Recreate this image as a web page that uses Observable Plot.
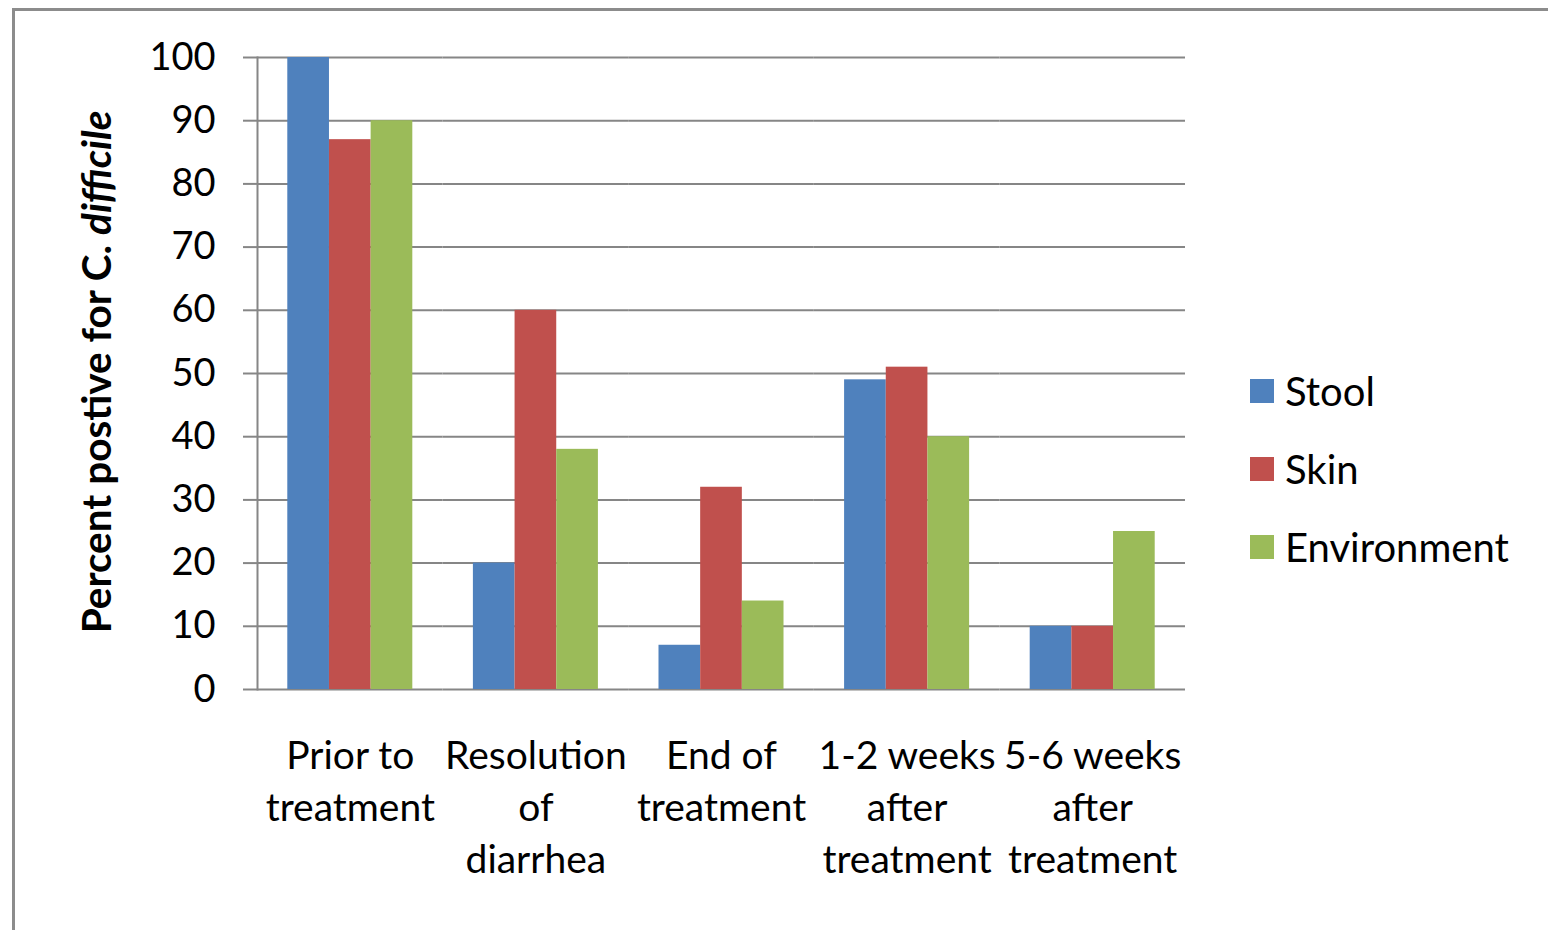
<!DOCTYPE html>
<html>
<head>
<meta charset="utf-8">
<script src="https://cdn.jsdelivr.net/npm/d3@7"></script>
<script src="https://cdn.jsdelivr.net/npm/@observablehq/plot@0.6"></script>
<style>
  html, body { margin: 0; padding: 0; background: #fff; overflow: hidden; }
  #chart { position: relative; width: 1548px; height: 930px; }
  #border { position: absolute; left: 12px; top: 8px; width: 1600px; height: 1000px;
            border: 3px solid #8c8c8c; box-sizing: border-box; pointer-events: none; }
  #legend { position: absolute; left: 1250px; top: 352px; font-family: Lato, sans-serif;
            font-size: 40px; color: #000; }
  #legend .row { display: flex; align-items: center; height: 78px; }
  #legend .sw { width: 24px; height: 24px; margin-right: 11px; }
  svg text { font-family: Lato, sans-serif; }
</style>
</head>
<body>
<div id="chart"><div id="border"></div></div>
<script>
// Time points of sampling (axis labels wrap onto several lines)
const categories = ["Prior to treatment", "Resolution of diarrhea", "End of treatment",
                    "1-2 weeks after treatment", "5-6 weeks after treatment"];
const categoryLabels = ["Prior to\ntreatment", "Resolution\nof\ndiarrhea", "End of\ntreatment",
                        "1-2 weeks\nafter\ntreatment", "5-6 weeks\nafter\ntreatment"];

// Sample sources
const series = ["Stool", "Skin", "Environment"];
const seriesColors = ["#4F81BD", "#C0504D", "#9BBB59"];

// Percent positive for C. difficile at each time point
const stool = [100, 20, 7, 49, 10];
const skin = [87, 60, 32, 51, 10];
const environment = [90, 38, 14, 40, 25];

const yTicks = [0, 10, 20, 30, 40, 50, 60, 70, 80, 90, 100];

const valuesBySeries = [stool, skin, environment];
const rows = categories.flatMap((category, i) =>
  series.map((s, j) => ({category, series: s, value: valuesBySeries[j][i]}))
);

const gridColor = "#868686";

const plot = Plot.plot({
  width: 1548,
  height: 930,
  marginLeft: 257,
  marginRight: 363,
  marginTop: 57,
  marginBottom: 241,
  style: {fontFamily: "Lato, sans-serif", fontSize: "38px", color: "#000", background: "transparent", overflow: "visible"},
  fx: {domain: categories, paddingInner: 0, paddingOuter: 0, round: false, label: null},
  x: {domain: series, paddingInner: 0, paddingOuter: 0.727, round: false, axis: null},
  y: {domain: [0, 100], label: null},
  color: {domain: series, range: seriesColors},
  marks: [
    Plot.ruleY(yTicks, {stroke: gridColor, strokeWidth: 2}),
    Plot.frame({anchor: "left", facetAnchor: "left", stroke: gridColor, strokeWidth: 2}),
    Plot.barY(rows, {fx: "category", x: "series", y: "value", fill: "series"}),
    Plot.axisY({ticks: yTicks, tickSize: 14, tickPadding: 28, stroke: gridColor, fill: "#000",
                strokeWidth: 2, fontSize: 38, label: null}),
    Plot.axisFx({anchor: "bottom", tickSize: 0, tickPadding: 43, fontSize: 39, lineHeight: 1.33, label: null,
                 tickFormat: d => categoryLabels[categories.indexOf(d)]})
  ]
});

const chart = document.getElementById("chart");
plot.style.position = "absolute";
plot.style.left = "0px";
plot.style.top = "0px";
chart.appendChild(plot);

// Rotated y-axis title with the species name in italics
const title = d3.select(plot).append("text")
  .attr("transform", "translate(111,372) rotate(-90)")
  .attr("text-anchor", "middle")
  .attr("font-size", 40.5)
  .attr("font-weight", "bold")
  .attr("fill", "#000");
title.append("tspan").text("Percent postive for C. ");
title.append("tspan").attr("font-style", "italic").text("difficile");

// Legend built from the plot's color scale
const color = plot.scale("color");
const legend = d3.select(chart).append("div").attr("id", "legend");
series.forEach((s, i) => {
  const row = legend.append("div").attr("class", "row");
  row.append("div").attr("class", "sw").style("background", color.range[i]);
  row.append("span").text(s);
});
</script>
</body>
</html>
